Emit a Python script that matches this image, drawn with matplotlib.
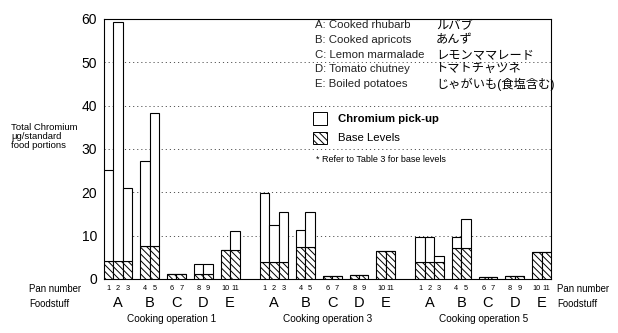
import matplotlib
matplotlib.use("Agg")
import matplotlib.pyplot as plt
import numpy as np
from matplotlib.patches import Rectangle

plt.rcParams['font.family'] = ['Liberation Sans', 'Noto Sans CJK JP', 'DejaVu Sans']
plt.rcParams['hatch.linewidth'] = 0.7

# ---- data ----
operations = ["Cooking operation 1", "Cooking operation 3", "Cooking operation 5"]
foods = ["A", "B", "C", "D", "E"]
pans_per_food = [3, 2, 2, 2, 2]
pan_numbers = ["1", "2", "3", "4", "5", "6", "7", "8", "9", "10", "11"]

op1_total = [25.2, 59.2, 21.0, 27.2, 38.4, 1.1, 1.1, 3.5, 3.5, 6.7, 11.0]
op1_base = [4.2, 4.2, 4.2, 7.6, 7.6, 1.1, 1.1, 1.1, 1.1, 6.7, 6.7]
op3_total = [19.8, 12.5, 15.4, 11.2, 15.4, 0.6, 0.6, 0.9, 0.9, 6.5, 6.5]
op3_base = [4.0, 4.0, 4.0, 7.3, 7.3, 0.6, 0.6, 0.9, 0.9, 6.5, 6.5]
op5_total = [9.6, 9.6, 5.4, 9.6, 13.9, 0.5, 0.5, 0.8, 0.8, 6.2, 6.2]
op5_base = [3.9, 3.9, 3.9, 7.2, 7.2, 0.5, 0.5, 0.8, 0.8, 6.2, 6.2]
totals = [op1_total, op3_total, op5_total]
bases = [op1_base, op3_base, op5_base]

legend_en = ["A: Cooked rhubarb", "B: Cooked apricots", "C: Lemon marmalade",
             "D: Tomato chutney", "E: Boiled potatoes"]
legend_ja = ["ルバブ", "あんず", "レモンママレード", "トマトチャツネ", "じゃがいも(食塩含む)"]

# ---- layout ----
W, H = 618, 333
fig = plt.figure(figsize=(W / 100, H / 100), dpi=100)
ax = fig.add_axes([104 / W, 1 - 279 / H, (551 - 104) / W, (279 - 19) / H])

def fx(px):
    return px / W

def fy(py):
    return 1 - py / H

bw = 1.0
group_gap = 0.85
op_gap = 2.15

x_positions = []
food_centers = []
op_centers = []
x = 0.0
for oi in range(len(operations)):
    xs = []
    fc = []
    for gi, n in enumerate(pans_per_food):
        g = [x + k * bw for k in range(n)]
        xs.extend(g)
        fc.append(np.mean(g))
        x = g[-1] + bw + group_gap
    x = xs[-1] + bw + op_gap
    x_positions.append(xs)
    food_centers.append(fc)
    op_centers.append((xs[0] + xs[-1]) / 2)

for oi in range(len(operations)):
    xs = np.array(x_positions[oi])
    tot = np.array(totals[oi])
    base = np.array(bases[oi])
    pick = np.clip(tot - base, 0, None)
    ax.bar(xs, base, width=bw, facecolor='white', edgecolor='black',
           hatch='\\\\\\\\\\', linewidth=0.8, zorder=3)
    ax.bar(xs, pick, bottom=base, width=bw, facecolor='white', edgecolor='black',
           linewidth=0.8, zorder=3)

ax.set_xlim(x_positions[0][0] - bw / 2, x_positions[-1][-1] + bw / 2)
ax.set_ylim(0, 60)
ax.set_yticks(range(0, 61, 10))
ax.tick_params(axis='y', length=0, labelsize=10, pad=5)
ax.set_xticks([])
for sp in ax.spines.values():
    sp.set_linewidth(0.8)
for yv in range(10, 60, 10):
    ax.axhline(yv, color='#555555', linestyle=(0, (1.2, 3)), linewidth=0.7, zorder=1)

trans = matplotlib.transforms.blended_transform_factory(ax.transData, fig.transFigure)
for oi in range(len(operations)):
    for xi, pn in zip(x_positions[oi], pan_numbers):
        ax.text(xi, fy(288), pn, transform=trans, ha='center', va='center', fontsize=5.3)
    for fcx, f in zip(food_centers[oi], foods):
        ax.text(fcx, fy(303), f, transform=trans, ha='center', va='center', fontsize=10.5)
    ax.text(op_centers[oi], fy(319), operations[oi], transform=trans, ha='center',
            va='center', fontsize=7.2)

fig.text(fx(29), fy(289), "Pan number", fontsize=6.9, ha='left', va='center')
fig.text(fx(29), fy(304), "Foodstuff", fontsize=6.9, ha='left', va='center')
fig.text(fx(557), fy(289), "Pan number", fontsize=6.9, ha='left', va='center')
fig.text(fx(557), fy(304), "Foodstuff", fontsize=6.9, ha='left', va='center')

fig.text(fx(11), fy(137), "Total Chromium\nμg/standard\nfood portions", fontsize=6.8,
         ha='left', va='center', linespacing=1.0)

ys = [25, 40, 55, 69, 84]
for yy, en, ja in zip(ys, legend_en, legend_ja):
    fig.text(fx(315), fy(yy), en, fontsize=8.2, ha='left', va='center', color='#222222')
    fig.text(fx(436), fy(yy), ja, fontsize=8.8, ha='left', va='center')

fig.patches.append(Rectangle((fx(313), fy(125)), (327 - 313) / W, (125 - 112) / H,
                             transform=fig.transFigure, facecolor='white',
                             edgecolor='black', linewidth=0.7, zorder=5))
fig.patches.append(Rectangle((fx(313), fy(144)), (327 - 313) / W, (144 - 132) / H,
                             transform=fig.transFigure, facecolor='white',
                             edgecolor='black', linewidth=0.7, hatch='\\\\\\\\\\', zorder=5))
fig.text(fx(338), fy(119), "Chromium pick-up", fontsize=8.2, fontweight='bold',
         ha='left', va='center')
fig.text(fx(338), fy(138), "Base Levels", fontsize=8.2, ha='left', va='center')
fig.text(fx(316), fy(159), "* Refer to Table 3 for base levels", fontsize=6.5,
         ha='left', va='center')

fig.savefig("out.png", dpi=100)
